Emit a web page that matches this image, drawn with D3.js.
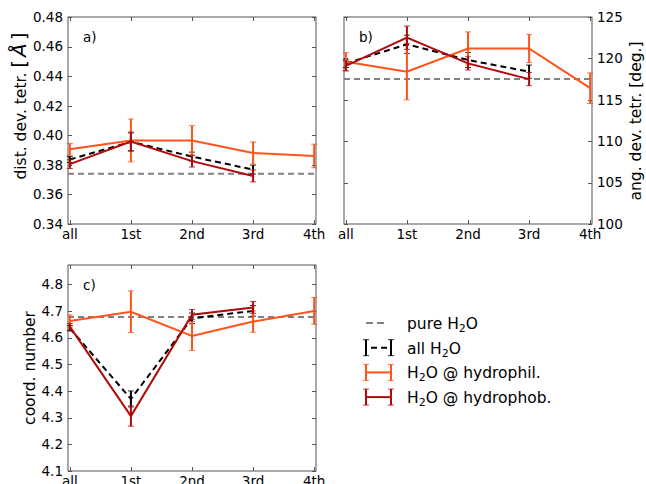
<!DOCTYPE html>
<html>
<head>
<meta charset="utf-8">
<script src="https://cdn.jsdelivr.net/npm/d3@7"></script>
<style>
  body { margin: 0; background: #fff; }
  svg { display: block; font-family: "DejaVu Sans", sans-serif; }
</style>
</head>
<body>
<svg id="fig" width="646" height="484"></svg>
<script>
// Shell categories along x
const categories = ["all", "1st", "2nd", "3rd", "4th"];

// a) distance deviation from tetrahedral geometry [Å]
const pureA = 0.374;
const allA = [0.3836, 0.3956, 0.3856, 0.3768];
const allAErr = [0.002, 0.006, 0.003, 0.003];
const philA = [0.3905, 0.3965, 0.3965, 0.388, 0.386];
const philAErr = [0.004, 0.0145, 0.010, 0.0075, 0.008];
const phobA = [0.3805, 0.3957, 0.3825, 0.3725];
const phobAErr = [0.003, 0.0065, 0.004, 0.004];
const ticksA = [0.34, 0.36, 0.38, 0.40, 0.42, 0.44, 0.46, 0.48];

// b) angular deviation from tetrahedral geometry [deg.]
const pureB = 117.5;
const allB = [119.4, 121.7, 119.8, 118.4];
const allBErr = [0.5, 1.1, 0.9, 0.8];
const philB = [119.6, 118.4, 121.2, 121.2, 116.4];
const philBErr = [1.1, 3.4, 2.0, 1.7, 1.85];
const phobB = [119.1, 122.5, 119.4, 117.5];
const phobBErr = [0.6, 1.4, 0.8, 0.8];
const ticksB = [100, 105, 110, 115, 120, 125];

// c) coordination number
const pureC = 4.677;
const allC = [4.635, 4.37, 4.672, 4.70];
const allCErr = [0.01, 0.03, 0.02, 0.02];
const philC = [4.662, 4.697, 4.606, 4.66, 4.70];
const philCErr = [0.023, 0.078, 0.054, 0.04, 0.05];
const phobC = [4.641, 4.306, 4.686, 4.713];
const phobCErr = [0.012, 0.038, 0.019, 0.022];
const ticksC = [4.1, 4.2, 4.3, 4.4, 4.5, 4.6, 4.7, 4.8];

const COL_PURE = "#808080";
const COL_ALL = "#000000";
const COL_PHIL = "#ff5319";
const COL_PHOB = "#b00a0a";
const SPINE = "#555";

const svg = d3.select("#fig");

function panel(opts) {
  const { x0, x1, y0, y1, yDomain, yTicks, fmt, side, tag, label, labelX, labelY, data } = opts;
  const g = svg.append("g");
  const x = d3.scaleLinear().domain([-0.03, 4.03]).range([x0, x1]);
  const y = d3.scaleLinear().domain(yDomain).range([y1, y0]);

  // frame
  g.append("rect").attr("x", x0).attr("y", y0).attr("width", x1 - x0).attr("height", y1 - y0)
    .attr("fill", "none").attr("stroke", SPINE).attr("stroke-width", 1);

  // inward ticks on all four sides
  const tl = 4;
  const ticks = g.append("g").attr("stroke", SPINE).attr("stroke-width", 1);
  yTicks.forEach(v => {
    const yy = Math.round(y(v)) + 0.5;
    ticks.append("line").attr("x1", x0).attr("x2", x0 + tl).attr("y1", yy).attr("y2", yy);
    ticks.append("line").attr("x1", x1).attr("x2", x1 - tl).attr("y1", yy).attr("y2", yy);
  });
  categories.forEach((c, i) => {
    const xx = Math.round(x(i)) + 0.5;
    ticks.append("line").attr("x1", xx).attr("x2", xx).attr("y1", y1).attr("y2", y1 - tl);
    ticks.append("line").attr("x1", xx).attr("x2", xx).attr("y1", y0).attr("y2", y0 + tl);
  });

  // tick labels
  const lab = g.append("g").attr("font-size", 13.5).attr("fill", "#000");
  yTicks.forEach(v => {
    lab.append("text")
      .attr("x", side === "left" ? x0 - 5 : x1 + 5)
      .attr("y", y(v)).attr("dy", "0.36em")
      .attr("text-anchor", side === "left" ? "end" : "start")
      .text(fmt(v));
  });
  categories.forEach((c, i) => {
    lab.append("text").attr("x", x(i)).attr("y", y1 + 15)
      .attr("text-anchor", "middle").text(c);
  });

  // axis label
  const t = g.append("text").attr("font-size", 15.5)
    .attr("transform", `translate(${labelX},${labelY}) rotate(-90)`)
    .attr("text-anchor", "middle");
  label(t);

  // panel tag
  g.append("text").attr("x", x0 + 15).attr("y", y0 + 25).attr("font-size", 13.5).text(tag);

  // reference line for pure water
  g.append("line").attr("x1", x0).attr("x2", x1)
    .attr("y1", y(data.pure)).attr("y2", y(data.pure))
    .attr("stroke", COL_PURE).attr("stroke-width", 2).attr("stroke-dasharray", "6,4");

  const line = d3.line().x((d, i) => x(i)).y(d => y(d));
  function series(vals, errs, color, dash) {
    const s = g.append("g");
    vals.forEach((v, i) => {
      const xx = x(i);
      s.append("line").attr("x1", xx).attr("x2", xx)
        .attr("y1", y(v - errs[i])).attr("y2", y(v + errs[i]))
        .attr("stroke", color).attr("stroke-width", 2);
      [v - errs[i], v + errs[i]].forEach(e => {
        s.append("line").attr("x1", xx - 3).attr("x2", xx + 3)
          .attr("y1", y(e)).attr("y2", y(e))
          .attr("stroke", color).attr("stroke-width", 1).attr("stroke-opacity", 0.8);
      });
    });
    s.append("path").datum(vals).attr("d", line).attr("fill", "none")
      .attr("stroke", color).attr("stroke-width", 2)
      .attr("stroke-dasharray", dash || null);
  }
  series(data.all, data.allErr, COL_ALL, "6,4");
  series(data.phil, data.philErr, COL_PHIL);
  series(data.phob, data.phobErr, COL_PHOB);
}

panel({
  x0: 68, x1: 316, y0: 17, y1: 224, yDomain: [0.34, 0.48], yTicks: ticksA,
  fmt: d3.format(".2f"), side: "left", tag: "a)", labelX: 26, labelY: 106,
  label: t => {
    t.append("tspan").text("dist. dev. tetr. ");
    t.append("tspan").attr("font-size", 20).text("[");
    t.append("tspan").attr("font-size", 20).attr("font-style", "italic").attr("dx", 3).text("Å");
    t.append("tspan").attr("font-size", 20).attr("dx", 3).text("]");
  },
  data: { pure: pureA, all: allA, allErr: allAErr, phil: philA, philErr: philAErr, phob: phobA, phobErr: phobAErr }
});

panel({
  x0: 344, x1: 592, y0: 17, y1: 224, yDomain: [100, 125], yTicks: ticksB,
  fmt: d3.format("d"), side: "right", tag: "b)", labelX: 641, labelY: 121,
  label: t => t.text("ang. dev. tetr. [deg.]"),
  data: { pure: pureB, all: allB, allErr: allBErr, phil: philB, philErr: philBErr, phob: phobB, phobErr: phobBErr }
});

panel({
  x0: 68, x1: 316, y0: 265, y1: 471, yDomain: [4.1, 4.872], yTicks: ticksC,
  fmt: d3.format(".1f"), side: "left", tag: "c)", labelX: 35, labelY: 368,
  label: t => t.text("coord. number"),
  data: { pure: pureC, all: allC, allErr: allCErr, phil: philC, philErr: philCErr, phob: phobC, phobErr: phobCErr }
});

// legend
const legendItems = [
  { pre: "pure H", post: "O", color: COL_PURE, kind: "dash" },
  { pre: "all H", post: "O", color: COL_ALL, kind: "errdash" },
  { pre: "H", post: "O @ hydrophil.", color: COL_PHIL, kind: "err" },
  { pre: "H", post: "O @ hydrophob.", color: COL_PHOB, kind: "err" }
];
const lg = svg.append("g");
const lx0 = 366, lx1 = 391;
legendItems.forEach((it, k) => {
  const yy = 323 + k * 24.7;
  if (it.kind === "dash") {
    lg.append("line").attr("x1", lx0).attr("x2", lx0 + 18).attr("y1", yy).attr("y2", yy)
      .attr("stroke", it.color).attr("stroke-width", 2).attr("stroke-dasharray", "7,4");
  } else {
    lg.append("line").attr("x1", lx0).attr("x2", lx1).attr("y1", yy).attr("y2", yy)
      .attr("stroke", it.color).attr("stroke-width", 2)
      .attr("stroke-dasharray", it.kind === "errdash" ? "6,4" : null)
      .attr("stroke-dashoffset", it.kind === "errdash" ? -5 : null);
    [lx0, lx1].forEach(xx => {
      lg.append("line").attr("x1", xx).attr("x2", xx).attr("y1", yy - 8).attr("y2", yy + 8)
        .attr("stroke", it.color).attr("stroke-width", 2);
      [yy - 8, yy + 8].forEach(e => {
        lg.append("line").attr("x1", xx - 3).attr("x2", xx + 3).attr("y1", e).attr("y2", e)
          .attr("stroke", it.color).attr("stroke-width", 1).attr("stroke-opacity", 0.8);
      });
    });
  }
  const t = lg.append("text").attr("x", 407).attr("y", yy + 6).attr("font-size", 15.5);
  t.append("tspan").text(it.pre);
  t.append("tspan").attr("font-size", 11).attr("dy", 3).text("2");
  t.append("tspan").attr("dy", -3).text(it.post);
});
</script>
</body>
</html>
